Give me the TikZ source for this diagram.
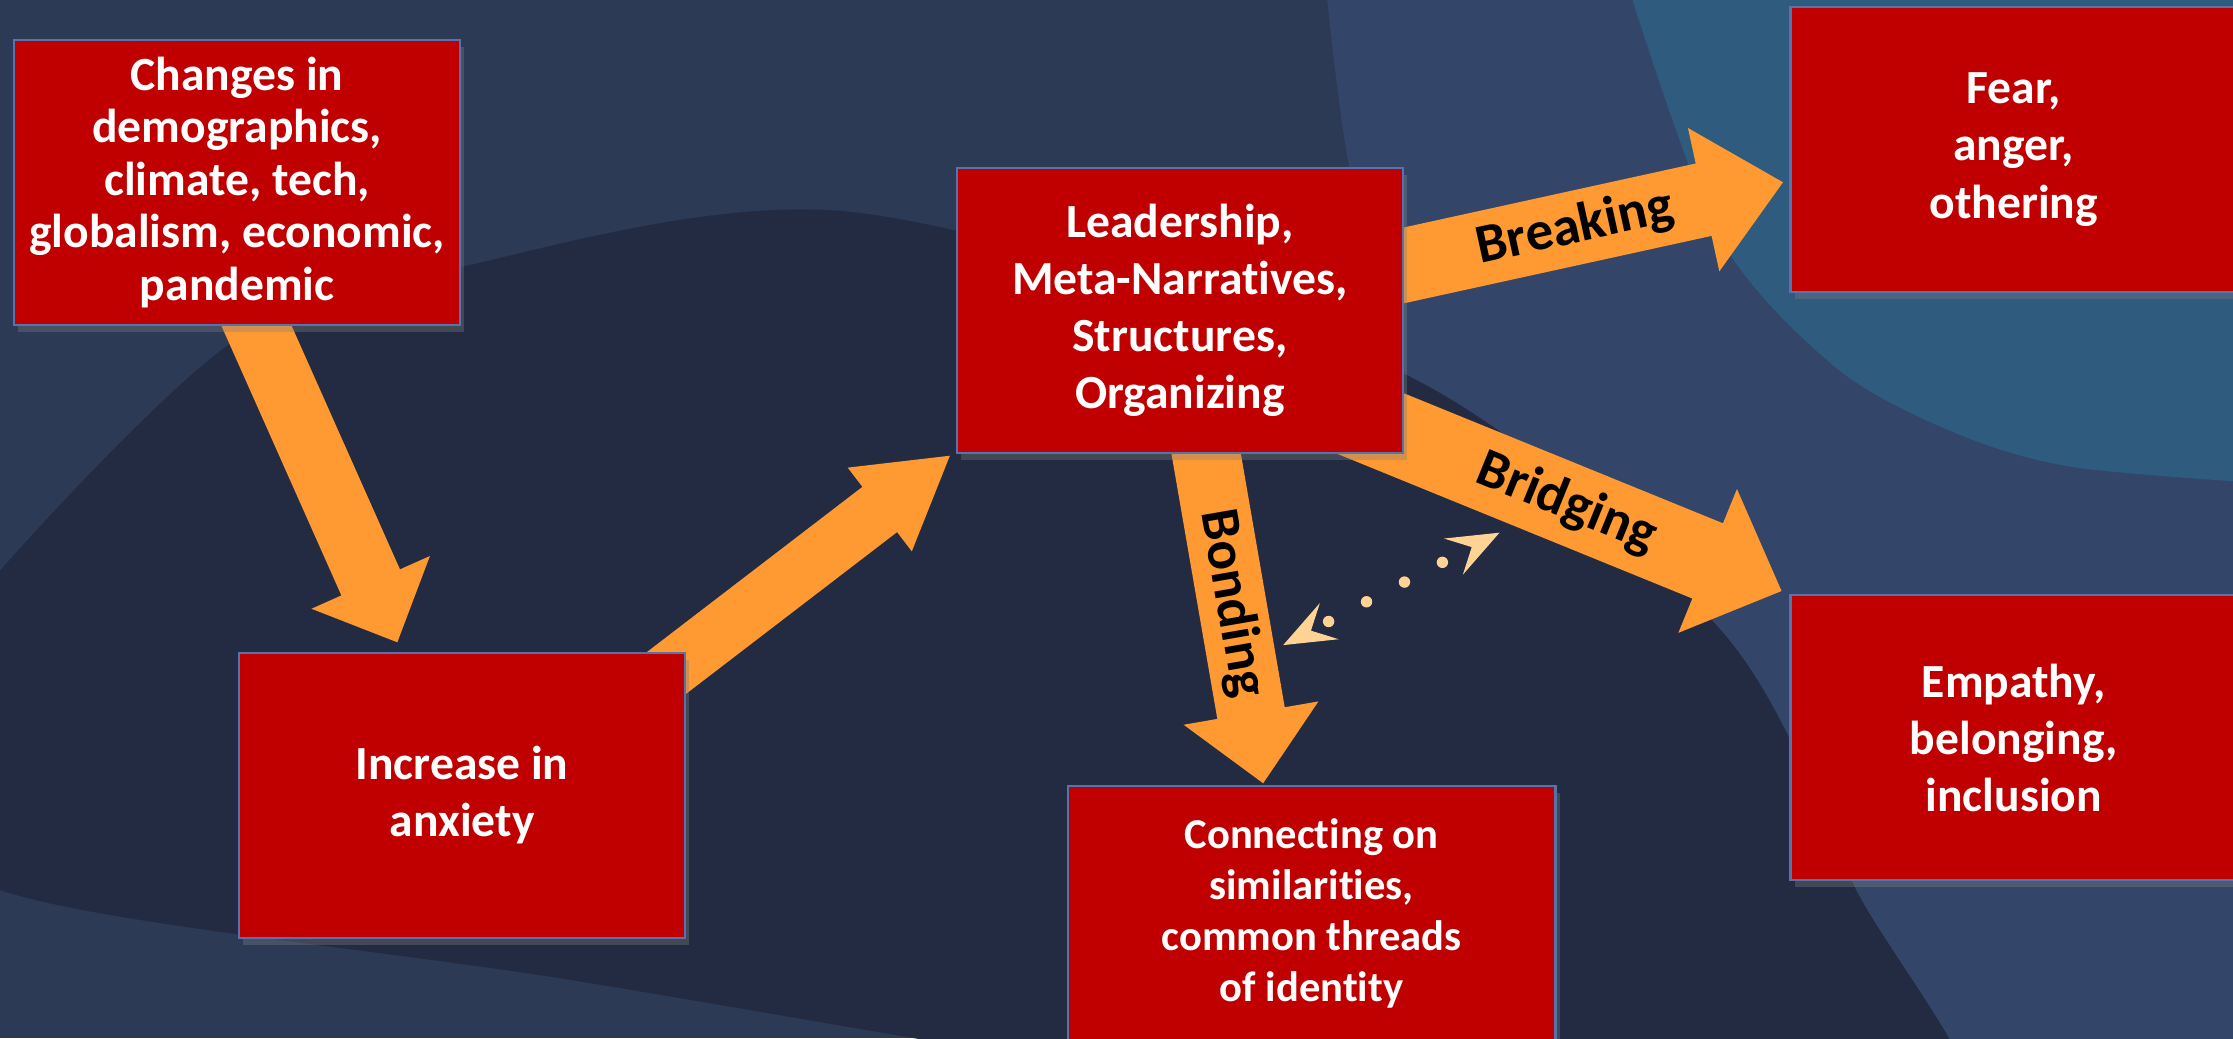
\documentclass[tikz,border=0pt]{standalone}
\usepackage{fontspec}
\setmainfont{Carlito}[Ligatures=NoCommon]
\usepackage{tikz}
\usetikzlibrary{calc,arrows.meta,shadows}

\definecolor{bgbase}{HTML}{2D3A56}
\definecolor{bgdark}{HTML}{232B42}
\definecolor{bglight}{HTML}{33466A}
\definecolor{bgteal}{HTML}{2F5B7F}
\definecolor{boxred}{HTML}{C00000}
\definecolor{boxline}{HTML}{5574AE}
\definecolor{arroworange}{HTML}{FF9A33}
\definecolor{dotpeach}{HTML}{FFD394}

% tail, tip, half shaft, half head, head length
\newcommand{\fatarrow}[5]{%
  \coordinate (fa_base) at ($(#2)!#5!(#1)$);
  \fill[arrow_fill] ($(#1)!#3!90:(#2)$) -- ($(fa_base)!#3!90:(#2)$) -- ($(fa_base)!#4!90:(#2)$) -- (#2)
    -- ($(fa_base)!#4!-90:(#2)$) -- ($(fa_base)!#3!-90:(#2)$) -- ($(#1)!#3!-90:(#2)$) -- cycle;
}

\begin{document}
\begin{tikzpicture}[x=0.01cm, y=-0.01cm,
  box_node/.style={rectangle, fill=boxred, draw=boxline, line width=0.5pt, text=white, align=center, inner sep=0pt, minimum width=3.13cm, minimum height=2.0cm, drop shadow={shadow xshift=0.03cm, shadow yshift=-0.05cm, opacity=0.35}},
  small_text/.style={font=\fontsize{8.5}{10.2}\selectfont\bfseries},
  tight_text/.style={font=\fontsize{9.5}{10.5}\selectfont\bfseries},
  big_text/.style={font=\fontsize{9.5}{11.4}\selectfont\bfseries},
  arrow_fill/.style={fill=arroworange},
  arrow_label/.style={font=\fontsize{11}{13}\selectfont\bfseries, text=black, inner sep=0pt},
  dot_line/.style={draw=dotpeach, line width=0.08cm, line cap=round, dash pattern=on 0pt off 0.3cm, dash phase=0.135cm, {Stealth[length=0.36cm, width=0.28cm, inset=0.14cm]}-{Stealth[length=0.36cm, width=0.28cm, inset=0.14cm]}}]

    \useasboundingbox (0,0) rectangle (1568,729);
    \clip (0,0) rectangle (1568,729);

    % background
    \fill[bgbase] (0,0) rectangle (1568,729);
    \fill[bglight] plot[smooth] coordinates {(930,-20) (948,120) (990,270) (1100,480) (1200,750)} -- (1600,750) -- (1600,-20) -- cycle;
    \fill[bgdark] plot[smooth cycle] coordinates {(-90,520) (150,250) (330,186) (600,149) (985,262) (1208,442) (1301,620) (1380,820) (900,770) (400,688) (0,625)};
    \fill[bgteal] plot[smooth] coordinates {(1140,-20) (1206,164) (1289,258) (1373,304) (1456,328) (1600,340)} -- (1600,-20) -- cycle;

    \coordinate (t12) at (174,215);
    \coordinate (h12) at (279,451);
    \coordinate (t23) at (440,494);
    \coordinate (h23) at (667,320);
    \coordinate (t34) at (960,192);
    \coordinate (h34) at (1252,128);
    \coordinate (t35) at (932,285);
    \coordinate (h35) at (1251,415);
    \coordinate (t36) at (842,290);
    \coordinate (h36) at (887,550);
    \coordinate (d1) at (901,453);
    \coordinate (d2) at (1053,374);

    \fatarrow{t12}{h12}{0.225cm}{0.455cm}{0.46cm}
    \fatarrow{t23}{h23}{0.2cm}{0.37cm}{0.62cm}
    \fatarrow{t34}{h34}{0.26cm}{0.515cm}{0.57cm}
    \fatarrow{t35}{h35}{0.285cm}{0.545cm}{0.56cm}
    \fatarrow{t36}{h36}{0.24cm}{0.48cm}{0.5cm}

    \path (t34) -- (h34) node[arrow_label, sloped, pos=0.5] {Breaking};
    \path (t35) -- (h35) node[arrow_label, sloped, pos=0.527] {Bridging};
    \path (t36) -- (h36) node[arrow_label, sloped, pos=0.514] {Bonding};

    \draw[dot_line] (d1) -- (d2);

    \node[box_node, tight_text] (1) at (166.5,128) {Changes in\\demographics,\\climate, tech,\\globalism, economic,\\pandemic};
    \node[box_node, big_text] (2) at (324.5,558.5) {Increase in\\anxiety};
    \node[box_node, big_text] (3) at (828.5,218) {Leadership,\\Meta-Narratives,\\Structures,\\Organizing};
    \node[box_node, big_text] (4) at (1414,105) {Fear,\\anger,\\othering};
    \node[box_node, big_text] (5) at (1414,518) {Empathy,\\belonging,\\inclusion};
    \node[box_node, small_text, minimum width=3.42cm, minimum height=1.79cm] (6) at (921,641.5) {Connecting on\\similarities,\\common threads\\of identity};
\end{tikzpicture}
\end{document}
